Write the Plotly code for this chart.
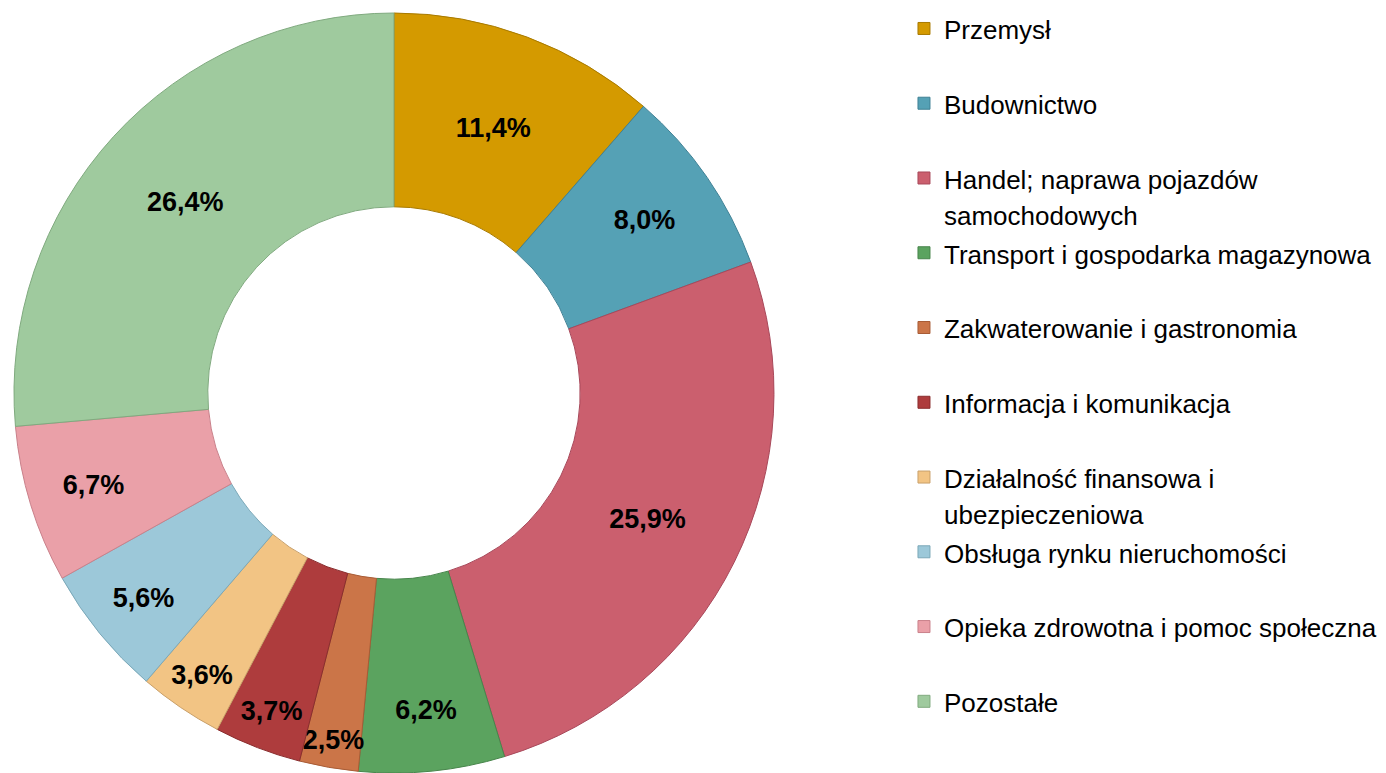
import plotly.graph_objects as go

# sekcje PKD i udział (%)
sekcje = [
    "Przemysł",
    "Budownictwo",
    "Handel; naprawa pojazdów<br>samochodowych",
    "Transport i gospodarka magazynowa",
    "Zakwaterowanie i gastronomia",
    "Informacja i komunikacja",
    "Działalność finansowa i<br>ubezpieczeniowa",
    "Obsługa rynku nieruchomości",
    "Opieka zdrowotna i pomoc społeczna",
    "Pozostałe",
]
udzial = [11.4, 8.0, 25.9, 6.2, 2.5, 3.7, 3.6, 5.6, 6.7, 26.4]

kolory = ["#D49A00", "#55A1B5", "#CB5F6E", "#5BA35F", "#CB7548",
          "#AE3C3D", "#F2C484", "#9CC8D9", "#EAA0A8", "#9FCA9E"]
obrys = ["#A87A00", "#3F8195", "#A8485A", "#47854B", "#A85C36",
         "#8A2D2E", "#C9A06A", "#7BA8B8", "#C9808A", "#80AA7F"]

# wpisy legendy mają po dwie linie (oprócz ostatniego), żeby odstępy były równe
def wpis(s, ostatni=False):
    linie = s.split("<br>")
    if len(linie) == 1 and not ostatni:
        linie.append(" ")
    return "<br>".join(f"<span style='font-size:26px'>{l}</span>" for l in linie)

etykiety = [wpis(s, i == len(sekcje) - 1) for i, s in enumerate(sekcje)]
teksty = [f"{v:.1f}%".replace(".", ",") for v in udzial]

fig = go.Figure(
    go.Pie(
        labels=etykiety,
        values=udzial,
        text=teksty,
        textinfo="text",
        textposition="inside",
        insidetextorientation="horizontal",
        textfont=dict(family="Liberation Sans, Arial", size=27, color="black", weight="bold"),
        hole=0.49,
        sort=False,
        direction="clockwise",
        rotation=0,
        marker=dict(colors=kolory, line=dict(color=obrys, width=1)),
        domain=dict(x=[0, 0.5602], y=[0, 1]),
        hoverinfo="skip",
    )
)

# strona ma domyślny margines 8px, więc wykres jest o tyle mniejszy
fig.update_layout(
    width=1378,
    height=765,
    margin=dict(l=0, r=0, t=5, b=0, autoexpand=False),
    paper_bgcolor="white",
    uniformtext=dict(minsize=27, mode="show"),
    font=dict(family="Liberation Sans, Arial", color="black"),
    legend=dict(
        x=0.6502,
        y=1.0118,
        xanchor="left",
        yanchor="top",
        valign="top",
        font=dict(size=27.6),
        traceorder="normal",
        maxheight=1,
    ),
)

fig.write_html("out.html")
